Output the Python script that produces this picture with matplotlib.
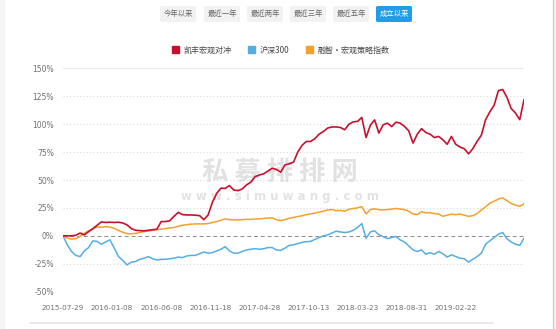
import numpy as np
import matplotlib
matplotlib.use('Agg')
import matplotlib.pyplot as plt
from matplotlib.patches import Patch, FancyBboxPatch, Rectangle

plt.rcParams['font.family'] = ['Noto Sans CJK SC', 'DejaVu Sans']

# cumulative return (%), one sample every two weeks from 2015-07-29
fund = [0, 0, 0, 0.5, 2.5, 0.8, 3.8, 6.5, 9.5, 12.5,
        12, 12.2, 12, 12.2, 11.5, 9.8, 6.5, 5, 4.7, 4.5,
        5, 5.5, 6, 12.8, 12.8, 13.5, 17.5, 21, 19, 18.7,
        18.7, 18.5, 18.1, 14.5, 18.7, 30, 38, 42.7, 42.5, 45,
        41, 40.5, 42, 45.6, 48, 53, 54.5, 55.5, 58, 60.5,
        59.5, 57, 63.5, 64.5, 66, 75, 81, 84.5, 84.5, 87,
        91, 93.4, 96.5, 97.5, 97.5, 97, 95, 100, 102, 102.5,
        106, 88, 99, 103.8, 92, 99.4, 100.9, 97.8, 101.8, 100.9,
        98, 94, 83, 91, 96, 92.5, 91, 88, 89, 86,
        82, 89, 82, 79.5, 78, 73.4, 78, 84.5, 90, 104,
        111, 117, 130, 131, 124, 114, 110, 104, 121.8]

hs300 = [0, -8, -14, -17.5, -18.6, -13.5, -10.5, -4.5, -5, -7.5,
         -5.5, -3.5, -11, -18.5, -22, -26, -23.5, -23, -21, -20,
         -18.6, -20.5, -21.6, -21, -21, -20.5, -20, -19, -19.5, -18,
         -17.5, -17.5, -16, -14.5, -15.5, -15, -13.5, -12, -9.7, -13.5,
         -15.5, -15.5, -14, -12.6, -12, -11.5, -12, -11.5, -10.5, -10.5,
         -12.6, -13, -11, -8.5, -8, -7, -5.8, -5.2, -5, -3.2,
         -1.5, 0, 0.8, 2.5, 4.2, 3.5, 3, 3.5, 5, 7.5,
         11, -2.2, 3.5, 4.5, 1, -0.7, -2.5, -1.5, -0.5, -3.7,
         -5.5, -9, -12.6, -14, -12.5, -16.5, -15, -16.5, -14, -16,
         -19, -17, -18.5, -20, -20.5, -23.5, -21, -18.6, -15.6, -7.5,
         -4.5, -1.5, 1.5, 3, -2.5, -5.5, -7.5, -8.5, -2.2]

index = [0, -2, -3, -2.5, -0.5, 2.3, 4.5, 6.2, 7.8, 7.8,
         8.2, 7.8, 6.8, 4.8, 3.2, 2, 1.8, 2.2, 3, 3.8,
         4.4, 5, 5.5, 6, 6.5, 7, 7.5, 8.7, 9.5, 10,
         10.5, 10.7, 10.7, 10.7, 11, 12, 12.8, 14, 15.2, 14.5,
         14.2, 14.3, 14.5, 14.7, 14.8, 15, 15.2, 15.5, 16, 16,
         14.5, 13.6, 14.5, 15.8, 16.5, 17.3, 18, 19, 19.6, 20.3,
         21.2, 22, 23.2, 23.5, 22.5, 22.8, 22, 23.8, 24.5, 25,
         26.2, 19.6, 23.5, 24.2, 23.5, 23.2, 23.5, 24, 24.5, 24,
         23.5, 22, 19.5, 19, 21.7, 20.5, 20.8, 20, 19.5, 17.5,
         18.5, 19.4, 19, 19.5, 18.5, 17.5, 18, 20, 23, 26,
         29.2, 31, 33, 34, 31.5, 29, 27.5, 26.5, 28.6]

weeks = np.arange(0, 2 * len(fund), 2)
tick_weeks = [0, 23, 46, 69, 92, 115, 138, 161, 184]
tick_dates = ['2015-07-29', '2016-01-08', '2016-06-08', '2016-11-18', '2017-04-28',
              '2017-10-13', '2018-03-23', '2018-08-31', '2019-02-22']
y_ticks = [-50, -25, 0, 25, 50, 75, 100, 125, 150]
periods = ['今年以来', '最近一年', '最近两年', '最近三年', '最近五年', '成立以来']
names = ['凯丰宏观对冲', '沪深300', '融智·宏观策略指数']
colors = ['#c8102e', '#56aee0', '#f5a02a']

W, H = 556, 329
fig = plt.figure(figsize=(W / 100, H / 100), dpi=100)
ax = fig.add_axes([63 / W, 1 - 291.7 / H, 461 / W, 223.4 / H])

# page frame
fig.patches.append(Rectangle((0, 0), 4 / W, 1, transform=fig.transFigure,
                             color='#f6f6f6', zorder=0))
fig.patches.append(Rectangle((553 / W, 0), 3 / W, 1, transform=fig.transFigure,
                             color='#f3f3f3', zorder=0))
fig.lines.append(plt.Line2D([553 / W, 553 / W], [0, 1], transform=fig.transFigure,
                            color='#c8c8c8', lw=0.8))
fig.lines.append(plt.Line2D([30 / W, 493 / W], [1 - 323 / H, 1 - 323 / H],
                            transform=fig.transFigure, color='#e6e6e6', lw=1.2))

# period buttons
btn_x = [160, 204, 247, 290, 333, 376]
for i, (label, x0) in enumerate(zip(periods, btn_x)):
    active = i == len(periods) - 1
    fig.patches.append(FancyBboxPatch((x0 / W, 1 - 22 / H), 36 / W, 16 / H,
                                      boxstyle='round,pad=0,rounding_size=0.004',
                                      transform=fig.transFigure,
                                      fc='#1f9de6' if active else '#f2f2f2',
                                      ec='none'))
    fig.text((x0 + 18) / W, 1 - 14 / H, label, ha='center', va='center',
             fontsize=5.3, color='white' if active else '#666666')

# watermark
ax.text(0.47, 0.535, '私 募 排 排 网', transform=ax.transAxes, ha='center', va='center',
        fontsize=19, fontweight='bold', color='#e2e2e2', zorder=0)
ax.text(0.47, 0.425, 'w w w . s i m u w a n g . c o m', transform=ax.transAxes,
        ha='center', va='center', fontsize=8.5, fontweight='bold', color='#e2e2e2',
        zorder=0, family='DejaVu Sans')

for yv in y_ticks:
    if yv == 0:
        ax.axhline(0, color='#8a8a8a', lw=0.7, ls=(0, (4, 3)), zorder=1)
    elif yv in (150, -50):
        ax.axhline(yv, color='#e8e8e8', lw=0.8, zorder=1)
    else:
        ax.axhline(yv, color='#dcdcdc', lw=0.8, ls=(0, (1, 2)), zorder=1)

ax.plot(weeks, hs300, color=colors[1], lw=1.1, zorder=3)
ax.plot(weeks, index, color=colors[2], lw=1.1, zorder=3)
ax.plot(weeks, fund, color=colors[0], lw=1.2, zorder=4)

ax.set_xlim(0, weeks[-1])
ax.set_ylim(-50, 150)
ax.set_yticks(y_ticks)
ax.set_yticklabels([f'{v}%' for v in y_ticks])
ax.set_xticks(tick_weeks)
ax.set_xticklabels(tick_dates)
ax.tick_params(axis='y', length=0, pad=6.5, labelsize=5.5, labelcolor='#707070')
ax.tick_params(axis='x', length=0, pad=9.5, labelsize=5.2, labelcolor='#707070')
for lab in ax.get_xticklabels() + ax.get_yticklabels():
    lab.set_family('DejaVu Sans')
for s in ax.spines.values():
    s.set_visible(False)

handles = [Patch(color=c, label=n) for c, n in zip(colors, names)]
fig.legend(handles=handles, loc='center', bbox_to_anchor=(0.505, 1 - 50 / H),
           ncol=3, frameon=False, fontsize=5.8, handlelength=0.9, handleheight=0.9,
           handletextpad=0.6, columnspacing=2.0, labelcolor='#444444')

fig.savefig('out.png', dpi=100)
